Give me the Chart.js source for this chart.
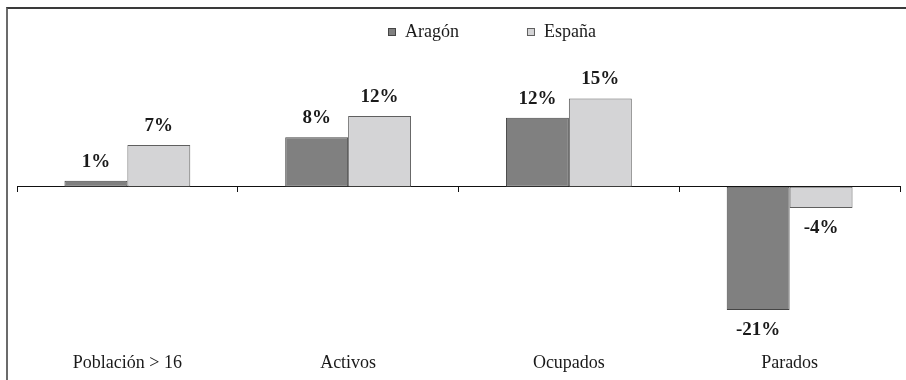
<!DOCTYPE html>
<html>
<head>
<meta charset="utf-8">
<script src="https://cdn.jsdelivr.net/npm/chart.js@4"></script>
<style>
  html, body { margin: 0; padding: 0; background: #fff; }
  #wrap { position: relative; width: 906px; height: 380px; }
  /* marco del gráfico: solo izquierda y arriba */
  #frame {
    position: absolute; left: 6px; top: 7px; right: 0; bottom: 0;
    border-left: 2px solid #6b6b6b; border-top: 2px solid #3a3a3a;
  }
  canvas { position: absolute; left: 0; top: 0; }
</style>
</head>
<body>
<div id="wrap">
  <div id="frame"></div>
  <canvas id="chart" width="906" height="380"></canvas>
</div>
<script>
// datos (variación %)
const categories = ["Población > 16", "Activos", "Ocupados", "Parados"];
const seriesNames = ["Aragón", "España"];
const aragon = [1.0, 8.4, 11.7, -20.9];
const espana = [7.1, 12.0, 15.0, -3.6];

const FONT = "'Liberation Serif', 'Times New Roman', serif";
const TEXT = "#1a1a1a";

// etiquetas de valor encima / debajo de cada barra
const valueLabels = {
  id: "valueLabels",
  afterDatasetsDraw(chart) {
    const { ctx } = chart;
    ctx.save();
    ctx.font = "bold 19px " + FONT;
    ctx.fillStyle = TEXT;
    ctx.textAlign = "center";
    ctx.textBaseline = "middle";
    chart.data.datasets.forEach((ds, di) => {
      const meta = chart.getDatasetMeta(di);
      meta.data.forEach((bar, i) => {
        const v = ds.data[i];
        const y = v >= 0 ? bar.y - 19 : bar.y + 20;
        ctx.fillText(Math.round(v) + "%", bar.x, y);
      });
    });
    ctx.restore();
  },
};

// leyenda simple arriba (cuadradito + texto)
const squareLegend = {
  id: "squareLegend",
  afterDraw(chart, args, opts) {
    const { ctx } = chart;
    ctx.save();
    ctx.font = "18px " + FONT;
    ctx.textBaseline = "middle";
    let x = opts.x;
    chart.data.datasets.forEach((ds) => {
      ctx.fillStyle = ds.backgroundColor;
      ctx.strokeStyle = ds.borderColor;
      ctx.lineWidth = 1;
      ctx.fillRect(x, opts.y - 4, 8, 8);
      ctx.strokeRect(x + 0.5, opts.y - 3.5, 7, 7);
      ctx.fillStyle = TEXT;
      ctx.fillText(ds.label, x + 17, opts.y);
      x += 17 + ctx.measureText(ds.label).width + opts.gap;
    });
    ctx.restore();
  },
};

new Chart(document.getElementById("chart"), {
  type: "bar",
  data: {
    labels: categories,
    datasets: [
      {
        label: seriesNames[0],
        data: aragon,
        backgroundColor: "#808080",
        borderColor: "#454545",
        borderWidth: 1,
        borderSkipped: false,
      },
      {
        label: seriesNames[1],
        data: espana,
        backgroundColor: "#d4d4d6",
        borderColor: "#5f5f5f",
        borderWidth: 1,
        borderSkipped: false,
      },
    ],
  },
  plugins: [valueLabels, squareLegend],
  options: {
    responsive: false,
    animation: false,
    devicePixelRatio: 1,
    categoryPercentage: 0.57,
    barPercentage: 1.0,
    layout: { padding: { top: 39.5, left: 17, right: 6, bottom: 0 } },
    plugins: {
      legend: { display: false },
      tooltip: { enabled: false },
      squareLegend: { x: 388, y: 32, gap: 68 },
    },
    scales: {
      y: {
        display: false,
        min: -27.1,
        max: 25,
      },
      x: {
        offset: true,
        grid: { display: false, drawTicks: false },
        border: { display: false },
        ticks: {
          padding: 6,
          color: TEXT,
          font: { family: FONT, size: 18 },
        },
      },
      // eje en el cero con marcas entre categorías
      x0: {
        type: "category",
        axis: "x",
        labels: categories,
        offset: true,
        position: { y: 0 },
        ticks: { display: false },
        grid: {
          offset: true,
          drawOnChartArea: false,
          drawTicks: true,
          tickLength: 5,
          color: "#111",
          lineWidth: 1,
        },
        border: { display: true, color: "#111", width: 1 },
      },
    },
  },
});
</script>
</body>
</html>
